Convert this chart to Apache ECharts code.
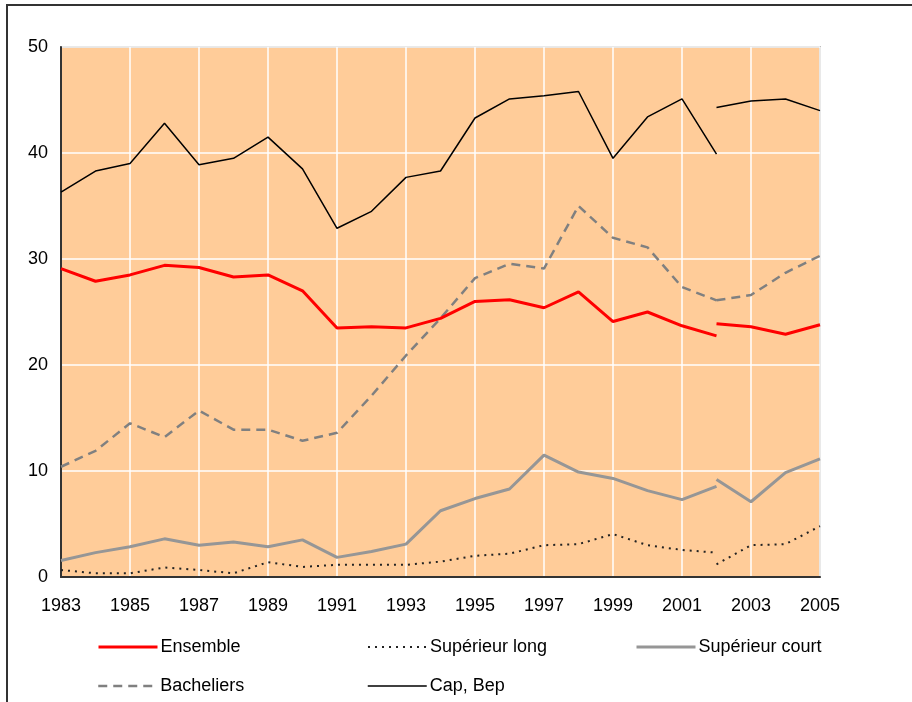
<!DOCTYPE html>
<html>
<head>
<meta charset="utf-8">
<script src="https://cdn.jsdelivr.net/npm/echarts@6/dist/echarts.min.js"></script>
<style>
  html, body { margin: 0; padding: 0; background: #fff; }
  #chart { width: 912px; height: 702px; }
</style>
</head>
<body>
<div id="chart"></div>
<script>
// années : 1983-2002 (ancienne série) puis 2002-2005 (nouvelle série)
const yearsA = [1983, 1984, 1985, 1986, 1987, 1988, 1989, 1990, 1991, 1992,
  1993, 1994, 1995, 1996, 1997, 1998, 1999, 2000, 2001, 2002];
const yearsB = [2002, 2003, 2004, 2005];
const firstYear = 1983;

const ensembleA = [29.1, 27.9, 28.5, 29.4, 29.2, 28.3, 28.5, 27.0, 23.5, 23.6,
  23.5, 24.4, 26.0, 26.15, 25.4, 26.9, 24.1, 25.0, 23.7, 22.75];
const ensembleB = [23.9, 23.6, 22.9, 23.8];

const supLongA = [0.66, 0.35, 0.35, 0.9, 0.66, 0.35, 1.4, 0.95, 1.15, 1.15,
  1.15, 1.45, 2.0, 2.2, 3.0, 3.1, 4.05, 3.0, 2.55, 2.3];
const supLongB = [1.2, 3.0, 3.1, 4.8];

const supCourtA = [1.55, 2.3, 2.85, 3.6, 3.0, 3.3, 2.85, 3.5, 1.85, 2.4,
  3.1, 6.25, 7.4, 8.3, 11.5, 9.9, 9.3, 8.15, 7.3, 8.55];
const supCourtB = [9.2, 7.1, 9.85, 11.15];

const bachA = [10.4, 11.9, 14.5, 13.2, 15.7, 13.9, 13.9, 12.85, 13.6, 17.1,
  20.9, 24.4, 28.2, 29.55, 29.1, 35.0, 32.0, 31.1, 27.35, 26.1];
const bachB = [26.1, 26.6, 28.7, 30.3];

const capA = [36.3, 38.3, 39.0, 42.8, 38.9, 39.5, 41.5, 38.5, 32.9, 34.5,
  37.7, 38.3, 43.3, 45.1, 45.4, 45.8, 39.5, 43.4, 45.1, 39.9];
const capB = [44.3, 44.9, 45.1, 44.0];

const yTicks = [0, 10, 20, 30, 40, 50];

// une seule série par catégorie, coupée en 2002 par un point vide
function build(a, b) {
  const pts = a.map((v, i) => [yearsA[i] - firstYear, v]);
  pts.push([yearsB[0] - firstYear, '-']);
  b.forEach((v, i) => pts.push([yearsB[i] - firstYear, v]));
  return pts;
}

const font = "Liberation Sans, Arial, sans-serif";
const mychart = echarts.init(document.getElementById("chart"));

function legendAt(name, left, top) {
  return {
    data: [name],
    left: left,
    top: top,
    padding: 0,
    itemWidth: 59,
    itemHeight: 12,
    itemGap: 0,
    selectedMode: false,
    itemStyle: { opacity: 0 }, // pas de symbole dans la légende
    lineStyle: { width: "inherit", type: "inherit" },
    textStyle: { fontFamily: font, fontSize: 18, color: "#000", padding: [0, 0, 0, -2] }
  };
}

mychart.setOption({
  animation: false,
  backgroundColor: "#fff",
  textStyle: { fontFamily: font },
  graphic: [
    {
      type: "rect",
      shape: { x: 7, y: 5, width: 1200, height: 1200 },
      style: { fill: "none", stroke: "#333", lineWidth: 2 },
      silent: true
    }
  ],
  grid: {
    left: 61,
    top: 47,
    right: 92,
    bottom: 125,
    show: true,
    backgroundColor: "#FFCC99",
    borderColor: "#8c8c8c",
    borderWidth: 1.5
  },
  legend: [
    legendAt("Ensemble", 97, 638),
    legendAt("Supérieur long", 367, 638),
    legendAt("Supérieur court", 635, 638),
    legendAt("Bacheliers", 97, 677),
    legendAt("Cap, Bep", 367, 677)
  ],
  xAxis: {
    type: "value",
    min: 0,
    max: yearsB[yearsB.length - 1] - firstYear,
    interval: 2,
    axisLine: { show: true, onZero: false, lineStyle: { color: "#333", width: 2 } },
    axisTick: { show: false },
    axisLabel: {
      fontSize: 18,
      color: "#000",
      margin: 20,
      fontFamily: font,
      formatter: v => String(firstYear + v)
    },
    splitLine: { show: true, lineStyle: { color: "#fff", width: 1.5 } }
  },
  yAxis: {
    type: "value",
    min: yTicks[0],
    max: yTicks[yTicks.length - 1],
    interval: 10,
    axisLine: { show: true, lineStyle: { color: "#333", width: 2 } },
    axisTick: { show: false },
    axisLabel: { fontSize: 18, color: "#000", margin: 13, fontFamily: font },
    splitLine: { show: true, lineStyle: { color: "#fff", width: 1.5 } }
  },
  series: [
    {
      name: "Cap, Bep",
      type: "line",
      symbol: "none",
      data: build(capA, capB),
      lineStyle: { color: "#000", width: 1.5 },
      itemStyle: { color: "#000" },
      z: 2
    },
    {
      name: "Bacheliers",
      type: "line",
      symbol: "none",
      data: build(bachA, bachB),
      lineStyle: { color: "#808080", width: 2.5, type: [9, 6] },
      itemStyle: { color: "#808080" },
      z: 3
    },
    {
      name: "Supérieur court",
      type: "line",
      symbol: "none",
      data: build(supCourtA, supCourtB),
      lineStyle: { color: "#969696", width: 3 },
      itemStyle: { color: "#969696" },
      z: 4
    },
    {
      name: "Supérieur long",
      type: "line",
      symbol: "none",
      data: build(supLongA, supLongB),
      lineStyle: { color: "#222", width: 2, type: [2, 5] },
      itemStyle: { color: "#222" },
      z: 5
    },
    {
      name: "Ensemble",
      type: "line",
      symbol: "none",
      data: build(ensembleA, ensembleB),
      lineStyle: { color: "#ff0000", width: 3 },
      itemStyle: { color: "#ff0000" },
      z: 6
    }
  ]
});
</script>
</body>
</html>
